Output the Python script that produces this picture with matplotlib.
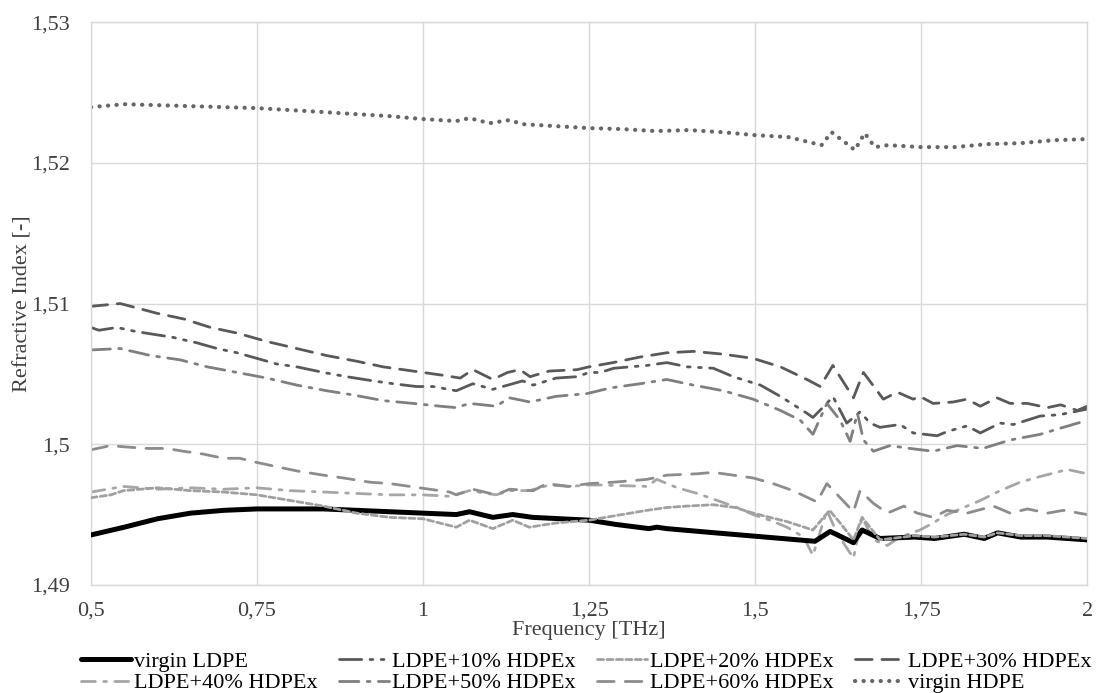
import matplotlib
matplotlib.use("Agg")
import matplotlib.pyplot as plt
from matplotlib.ticker import FuncFormatter, FixedLocator

plt.rcParams['font.family'] = ['Liberation Serif', 'DejaVu Serif']

# ---- data ----
f_ldpe = [0.5, 0.55, 0.6, 0.65, 0.7, 0.75, 0.85, 0.95, 1.0, 1.05, 1.07, 1.105, 1.135, 1.165, 1.25,
          1.29, 1.34, 1.352, 1.367, 1.44, 1.49, 1.54, 1.59, 1.613, 1.648, 1.661, 1.688, 1.74, 1.77,
          1.815, 1.845, 1.865, 1.9, 1.94, 2.0]
n_ldpe = [1.49355, 1.4941, 1.4947, 1.4951, 1.4953, 1.4954, 1.4954, 1.4952, 1.4951, 1.4950, 1.4952,
          1.4948, 1.4950, 1.4948, 1.4946, 1.4943, 1.4940, 1.4941, 1.4940, 1.4937, 1.4935, 1.4933,
          1.4931, 1.4938, 1.4930, 1.4939, 1.4933, 1.4934, 1.4933, 1.4936, 1.4933, 1.4937, 1.4934,
          1.4934, 1.4932]

f_10 = [0.5, 0.512, 0.539, 0.569, 0.623, 0.66, 0.69, 0.72, 0.75, 0.78, 0.81, 0.85, 0.885, 0.925,
        0.955, 0.99, 1.015, 1.05, 1.075, 1.105, 1.12, 1.15, 1.166, 1.2, 1.232, 1.25, 1.267, 1.287,
        1.337, 1.367, 1.398, 1.437, 1.467, 1.508, 1.538, 1.578, 1.587, 1.608, 1.617, 1.638, 1.658,
        1.673, 1.688, 1.718, 1.738, 1.774, 1.789, 1.819, 1.839, 1.869, 1.889, 1.929, 1.959, 2.0]
n_10 = [1.5083, 1.5081, 1.5083, 1.5080, 1.5076, 1.5072, 1.5068, 1.5065, 1.5061, 1.5057, 1.5055,
        1.5051, 1.5048, 1.5045, 1.5043, 1.5041, 1.5041, 1.5038, 1.5043, 1.5039, 1.5041, 1.5045,
        1.5042, 1.5047, 1.5048, 1.5051, 1.5051, 1.5054, 1.5056, 1.5058, 1.5055, 1.5054, 1.5048,
        1.5042, 1.5034, 1.5022, 1.5019, 1.5029, 1.5034, 1.5015, 1.5023, 1.5015, 1.5012, 1.5014,
        1.5008, 1.5006, 1.5009, 1.5013, 1.5008, 1.5015, 1.5014, 1.5020, 1.5021, 1.5025]

f_20 = [0.5, 0.53, 0.549, 0.6, 0.65, 0.7, 0.75, 0.8, 0.85, 0.9, 0.95, 1.0, 1.05, 1.07, 1.105, 1.135,
        1.16, 1.2, 1.25, 1.287, 1.337, 1.367, 1.397, 1.437, 1.47, 1.497, 1.522, 1.548, 1.587, 1.612,
        1.628, 1.648, 1.661, 1.688, 1.74, 1.77, 1.815, 1.845, 1.865, 1.9, 1.94, 2.0]
n_20 = [1.4962, 1.4964, 1.4967, 1.4969, 1.4967, 1.4966, 1.4964, 1.4960, 1.4956, 1.4951, 1.4948,
        1.4947, 1.4941, 1.4946, 1.4940, 1.4946, 1.4941, 1.4944, 1.4946, 1.4949, 1.4953, 1.4955,
        1.4956, 1.4957, 1.4955, 1.4951, 1.4948, 1.4945, 1.4939, 1.4953, 1.4944, 1.4932, 1.4948,
        1.4932, 1.4935, 1.4934, 1.4936, 1.4934, 1.4937, 1.4935, 1.4935, 1.4933]

f_30 = [0.5, 0.544, 0.6, 0.64, 0.68, 0.72, 0.765, 0.81, 0.855, 0.9, 0.94, 0.985, 1.03, 1.056, 1.075,
        1.105, 1.127, 1.146, 1.161, 1.19, 1.232, 1.25, 1.286, 1.327, 1.367, 1.407, 1.452, 1.497,
        1.538, 1.578, 1.598, 1.617, 1.648, 1.663, 1.693, 1.714, 1.738, 1.748, 1.768, 1.798, 1.819,
        1.839, 1.864, 1.884, 1.91, 1.94, 1.96, 1.985, 2.0]
n_30 = [1.5098, 1.5100, 1.5093, 1.5089, 1.5083, 1.5079, 1.5073, 1.5068, 1.5063, 1.5059, 1.5055,
        1.5052, 1.5049, 1.5047, 1.5053, 1.5046, 1.5051, 1.5053, 1.5048, 1.5052, 1.5053, 1.5055,
        1.5058, 1.5062, 1.5065, 1.5066, 1.5064, 1.5061, 1.5055, 1.5046, 1.5041, 1.5056, 1.5033,
        1.5051, 1.5032, 1.5037, 1.5032, 1.5034, 1.5029, 1.5030, 1.5032, 1.5027, 1.5033, 1.5029,
        1.5029, 1.5026, 1.5028, 1.5024, 1.5027]

f_40 = [0.5, 0.549, 0.6, 0.65, 0.7, 0.75, 0.8, 0.85, 0.9, 0.95, 1.0, 1.04, 1.07, 1.11, 1.13, 1.16,
        1.19, 1.22, 1.25, 1.267, 1.337, 1.352, 1.383, 1.413, 1.443, 1.473, 1.497, 1.522, 1.548,
        1.573, 1.587, 1.608, 1.623, 1.648, 1.661, 1.678, 1.699, 1.718, 1.748, 1.764, 1.789, 1.814,
        1.839, 1.869, 1.899, 1.929, 1.97, 2.0]
n_40 = [1.4966, 1.4970, 1.4968, 1.4969, 1.4968, 1.4969, 1.4967, 1.4966, 1.4965, 1.4964, 1.4964,
        1.4963, 1.4967, 1.4964, 1.4967, 1.4967, 1.4971, 1.4970, 1.4971, 1.4971, 1.4970, 1.4975,
        1.4969, 1.4965, 1.4960, 1.4955, 1.4950, 1.4946, 1.4941, 1.4934, 1.4921, 1.4953, 1.4937,
        1.4919, 1.4948, 1.4932, 1.4928, 1.4934, 1.4939, 1.4943, 1.4950, 1.4955, 1.4960, 1.4967,
        1.4973, 1.4977, 1.4982, 1.4979]

f_50 = [0.5, 0.544, 0.59, 0.634, 0.675, 0.72, 0.765, 0.81, 0.855, 0.895, 0.94, 0.985, 1.026, 1.05,
        1.07, 1.11, 1.13, 1.161, 1.2, 1.247, 1.282, 1.327, 1.367, 1.407, 1.452, 1.497, 1.538, 1.568,
        1.587, 1.608, 1.628, 1.643, 1.654, 1.663, 1.678, 1.703, 1.733, 1.768, 1.804, 1.843, 1.884,
        1.929, 1.964, 2.0]
n_50 = [1.5067, 1.5068, 1.5063, 1.5060, 1.5055, 1.5051, 1.5047, 1.5042, 1.5038, 1.5035, 1.5031,
        1.5029, 1.5027, 1.5026, 1.5029, 1.5027, 1.5033, 1.5030, 1.5034, 1.5036, 1.5040, 1.5043,
        1.5046, 1.5042, 1.5038, 1.5032, 1.5024, 1.5017, 1.5007, 1.5029, 1.5017, 1.5002, 1.5022,
        1.5003, 1.4995, 1.4999, 1.4997, 1.4995, 1.4999, 1.4997, 1.5003, 1.5007, 1.5012, 1.5017]

f_60 = [0.5, 0.529, 0.554, 0.584, 0.614, 0.639, 0.669, 0.699, 0.724, 0.75, 0.78, 0.81, 0.85, 0.88,
        0.92, 0.95, 0.98, 1.01, 1.04, 1.05, 1.075, 1.11, 1.13, 1.166, 1.186, 1.22, 1.25, 1.287,
        1.337, 1.367, 1.413, 1.437, 1.467, 1.497, 1.527, 1.557, 1.593, 1.608, 1.628, 1.648, 1.658,
        1.678, 1.699, 1.724, 1.744, 1.768, 1.789, 1.819, 1.859, 1.884, 1.91, 1.94, 1.964, 2.0]
n_60 = [1.4996, 1.4999, 1.4998, 1.4997, 1.4997, 1.4995, 1.4993, 1.4990, 1.4990, 1.4987, 1.4984,
        1.4981, 1.4978, 1.4976, 1.4973, 1.4972, 1.4970, 1.4968, 1.4966, 1.4964, 1.4968, 1.4964,
        1.4968, 1.4967, 1.4972, 1.4970, 1.4972, 1.4973, 1.4975, 1.4978, 1.4979, 1.4980, 1.4978,
        1.4976, 1.4972, 1.4967, 1.4959, 1.4972, 1.4962, 1.4952, 1.4967, 1.4958, 1.4951, 1.4956,
        1.4951, 1.4948, 1.4953, 1.4951, 1.4956, 1.4951, 1.4954, 1.4951, 1.4953, 1.4950]

f_hdpe = [0.5, 0.55, 0.6, 0.65, 0.7, 0.75, 0.8, 0.85, 0.9, 0.95, 1.0, 1.05, 1.07, 1.1, 1.13, 1.15,
          1.2, 1.25, 1.3, 1.35, 1.4, 1.45, 1.5, 1.55, 1.6, 1.615, 1.635, 1.65, 1.665, 1.68, 1.7,
          1.75, 1.8, 1.85, 1.9, 1.95, 2.0]
n_hdpe = [1.52396, 1.52417, 1.52410, 1.52403, 1.52396, 1.52389, 1.52375, 1.52361, 1.52346, 1.52332,
          1.52311, 1.52297, 1.52318, 1.52282, 1.52304, 1.52275, 1.52261, 1.52247, 1.52240, 1.52226,
          1.52233, 1.52218, 1.52197, 1.52183, 1.52126, 1.52218, 1.52147, 1.52091, 1.52211, 1.52112,
          1.52126, 1.52112, 1.52112, 1.52133, 1.52140, 1.52161, 1.52169]

x_ticks = [0.5, 0.75, 1.0, 1.25, 1.5, 1.75, 2.0]
y_ticks = [1.49, 1.50, 1.51, 1.52, 1.53]

# ---- figure ----
FS = 16
fig = plt.figure(figsize=(10.96, 6.93), dpi=100)
ax = fig.add_axes([0.083, 0.156, 0.909, 0.812])

lw = 2.0
ax.plot(f_ldpe, n_ldpe, color='black', lw=3.6, solid_capstyle='round', label='virgin LDPE', zorder=5)
ax.plot(f_10, n_10, color='#595959', lw=lw, ls=(0, (8, 3, 1, 3, 1, 3)), dash_capstyle='round',
        label='LDPE+10% HDPEx')
ax.plot(f_20, n_20, color='#a0a0a0', lw=lw, ls=(0, (2.2, 1.2)), dash_capstyle='round',
        label='LDPE+20% HDPEx', zorder=6)
ax.plot(f_30, n_30, color='#595959', lw=lw, ls=(0, (6, 3.5)), dash_capstyle='round',
        label='LDPE+30% HDPEx')
ax.plot(f_40, n_40, color='#a6a6a6', lw=lw, ls=(0, (5, 3, 1, 3)), dash_capstyle='round',
        label='LDPE+40% HDPEx')
ax.plot(f_50, n_50, color='#7f7f7f', lw=lw, ls=(0, (7, 3, 1, 3)), dash_capstyle='round',
        label='LDPE+50% HDPEx')
ax.plot(f_60, n_60, color='#8c8c8c', lw=lw, ls=(0, (6, 4)), dash_capstyle='round',
        label='LDPE+60% HDPEx')
ax.plot(f_hdpe, n_hdpe, color='#666666', lw=3.0, ls=(0, (0.05, 2.0)), dash_capstyle='round',
        label='virgin HDPE')

ax.set_xlim(0.5, 2.0)
ax.set_ylim(1.49, 1.53)
ax.xaxis.set_major_locator(FixedLocator(x_ticks))
ax.yaxis.set_major_locator(FixedLocator(y_ticks))
fmt = FuncFormatter(lambda v, p: ('%g' % round(v, 4)).replace('.', ','))
ax.xaxis.set_major_formatter(fmt)
ax.yaxis.set_major_formatter(fmt)
ax.tick_params(axis='both', length=0, labelsize=FS, colors='#404040')
ax.tick_params(axis='x', pad=12)
ax.tick_params(axis='y', pad=15)
ax.grid(True, color='#d9d9d9', lw=1.0)
ax.set_axisbelow(True)
for s in ax.spines.values():
    s.set_color('#d9d9d9')
    s.set_linewidth(1.0)

ax.set_xlabel('Frequency [THz]', fontsize=FS, color='#404040', labelpad=0)
ax.set_ylabel('Refractive Index [-]', fontsize=FS, color='#404040', labelpad=-1)

handles, labels = ax.get_legend_handles_labels()
order = [0, 4, 1, 5, 2, 6, 3, 7]
fig.legend([handles[i] for i in order], [labels[i] for i in order],
           loc='center', bbox_to_anchor=(0.535, 0.03), ncol=4, frameon=False, fontsize=FS,
           handlelength=2.25, handletextpad=0.15, columnspacing=0.95, labelspacing=0.05,
           borderaxespad=0, borderpad=0)

fig.savefig('out.png', dpi=100)
